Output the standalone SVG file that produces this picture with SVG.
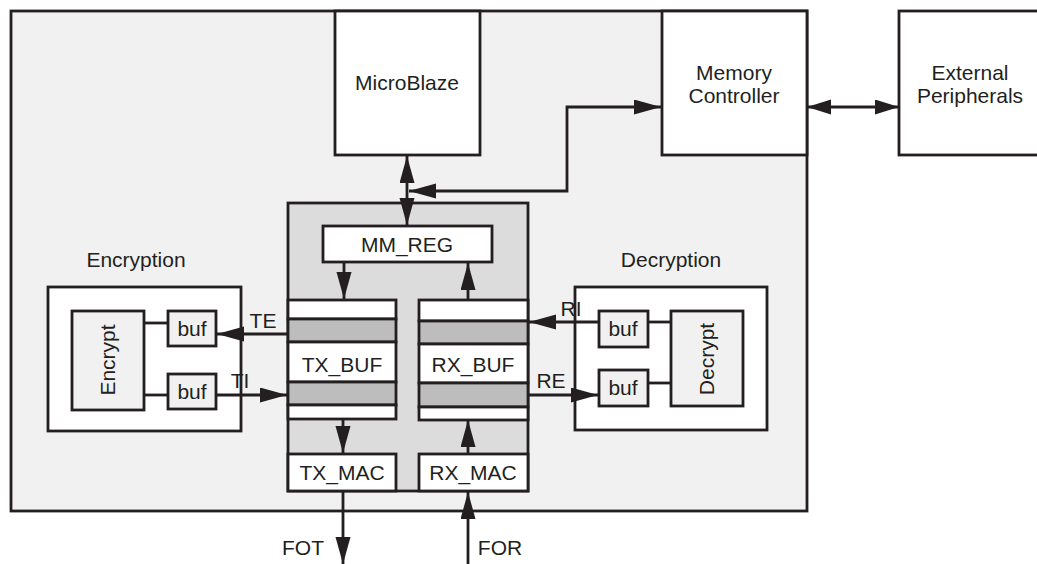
<svg xmlns="http://www.w3.org/2000/svg" width="1037" height="564" viewBox="0 0 1037 564">
<defs>
<marker id="ah" markerUnits="userSpaceOnUse" markerWidth="28" markerHeight="16" refX="27" refY="7.5" orient="auto-start-reverse" viewBox="0 0 28 16">
<path d="M0,0 L27,7.5 L0,15 z" fill="#231f20"/>
</marker>
<marker id="ahs" markerUnits="userSpaceOnUse" markerWidth="26" markerHeight="16" refX="24" refY="7.5" orient="auto-start-reverse" viewBox="0 0 26 16">
<path d="M0,0 L24,7.5 L0,15 z" fill="#231f20"/>
</marker>
<style>
.box{stroke:#231f20;stroke-width:2.8;}
.w{fill:#ffffff;}
.lg{fill:#f1f1f1;}
.mg{fill:#dcdcdc;}
.dg{fill:#bdbdbd;}
.ln{fill:none;stroke:#231f20;stroke-width:2.8;}
text{font-family:"Liberation Sans",Arial,sans-serif;font-size:21px;fill:#231f20;text-anchor:middle;}
</style>
</defs>
<rect width="1037" height="564" fill="#ffffff"/>
<g id="fpga">
<rect class="box lg" x="11" y="11" width="796" height="500"/>
</g>
<g id="microblaze">
<rect class="box w" x="335" y="11" width="145" height="144"/>
<text x="407" y="90">MicroBlaze</text>
</g>
<g id="memctrl">
<rect class="box w" x="662" y="11" width="145" height="144"/>
<text x="734" y="80">Memory</text>
<text x="734" y="103">Controller</text>
</g>
<g id="extperiph">
<rect class="box w" x="899" y="11" width="145" height="144"/>
<text x="970" y="80">External</text>
<text x="970" y="103">Peripherals</text>
</g>
<g id="core">
<rect class="box mg" x="288" y="203" width="240" height="288"/>
</g>
<g id="mmreg">
<rect class="box w" x="323" y="226" width="169" height="36"/>
<text x="407" y="252">MM_REG</text>
</g>
<g id="txbuf">
<rect class="box w" x="288" y="300" width="108" height="19"/>
<rect class="box dg" x="288" y="319" width="108" height="23"/>
<rect class="box w" x="288" y="342" width="108" height="40"/>
<rect class="box dg" x="288" y="382" width="108" height="23"/>
<rect class="box w" x="288" y="405" width="108" height="14"/>
<text x="342" y="372">TX_BUF</text>
</g>
<g id="rxbuf">
<rect class="box w" x="419" y="300" width="109" height="21"/>
<rect class="box dg" x="419" y="321" width="109" height="23"/>
<rect class="box w" x="419" y="344" width="109" height="39"/>
<rect class="box dg" x="419" y="383" width="109" height="24"/>
<rect class="box w" x="419" y="407" width="109" height="13"/>
<text x="473" y="372">RX_BUF</text>
</g>
<g id="txmac">
<rect class="box w" x="288" y="454" width="108" height="37"/>
<text x="342" y="480">TX_MAC</text>
</g>
<g id="rxmac">
<rect class="box w" x="419" y="454" width="109" height="37"/>
<text x="473" y="480">RX_MAC</text>
</g>
<g id="encryption">
<text x="136" y="267">Encryption</text>
<rect class="box w" x="48" y="287" width="193" height="144"/>
<rect class="box lg" x="72" y="311" width="72" height="99"/>
<text transform="translate(108,360) rotate(-90)" y="7">Encrypt</text>
<rect class="box lg" x="168" y="311" width="48" height="35"/>
<text x="192" y="336">buf</text>
<rect class="box lg" x="168" y="374" width="48" height="35"/>
<text x="192" y="399">buf</text>
<line class="ln" x1="144" y1="323" x2="168" y2="323"/>
<line class="ln" x1="144" y1="395" x2="168" y2="395"/>
</g>
<g id="decryption">
<text x="671" y="267">Decryption</text>
<rect class="box w" x="575" y="287" width="192" height="143"/>
<rect class="box lg" x="671" y="311" width="72" height="95"/>
<text transform="translate(707,359) rotate(-90)" y="7">Decrypt</text>
<rect class="box lg" x="599" y="311" width="49" height="36"/>
<text x="623" y="336">buf</text>
<rect class="box lg" x="599" y="370" width="49" height="36"/>
<text x="623" y="395">buf</text>
<line class="ln" x1="648" y1="322" x2="671" y2="322"/>
<line class="ln" x1="648" y1="383" x2="671" y2="383"/>
</g>
<g id="connectors">
<line class="ln" x1="807" y1="107" x2="899" y2="107" stroke-width="4" marker-start="url(#ahs)" marker-end="url(#ahs)"/>
<line class="ln" x1="407" y1="156" x2="407" y2="225" marker-start="url(#ah)" marker-end="url(#ah)"/>
<polyline class="ln" points="409,191 567,191 567,107 661,107" marker-start="url(#ah)" marker-end="url(#ah)"/>
<line class="ln" x1="344" y1="262" x2="344" y2="299" marker-end="url(#ah)"/>
<line class="ln" x1="468" y1="300" x2="468" y2="263" marker-end="url(#ah)"/>
<line class="ln" x1="343" y1="419" x2="343" y2="453" marker-end="url(#ah)"/>
<line class="ln" x1="468" y1="454" x2="468" y2="420" marker-end="url(#ah)"/>
<line class="ln" x1="343" y1="491" x2="343" y2="564" marker-end="url(#ah)"/>
<line class="ln" x1="468" y1="564" x2="468" y2="492" marker-end="url(#ah)"/>
<line class="ln" x1="288" y1="334" x2="217" y2="334" marker-end="url(#ah)"/>
<line class="ln" x1="216" y1="395" x2="287" y2="395" marker-end="url(#ah)"/>
<line class="ln" x1="599" y1="322" x2="529" y2="322" marker-end="url(#ah)"/>
<line class="ln" x1="528" y1="395" x2="598" y2="395" marker-end="url(#ah)"/>
<text x="263" y="328">TE</text>
<text x="240" y="388">TI</text>
<text x="571" y="316">RI</text>
<text x="551" y="388">RE</text>
<text x="303" y="555">FOT</text>
<text x="500" y="555">FOR</text>
</g>
</svg>
